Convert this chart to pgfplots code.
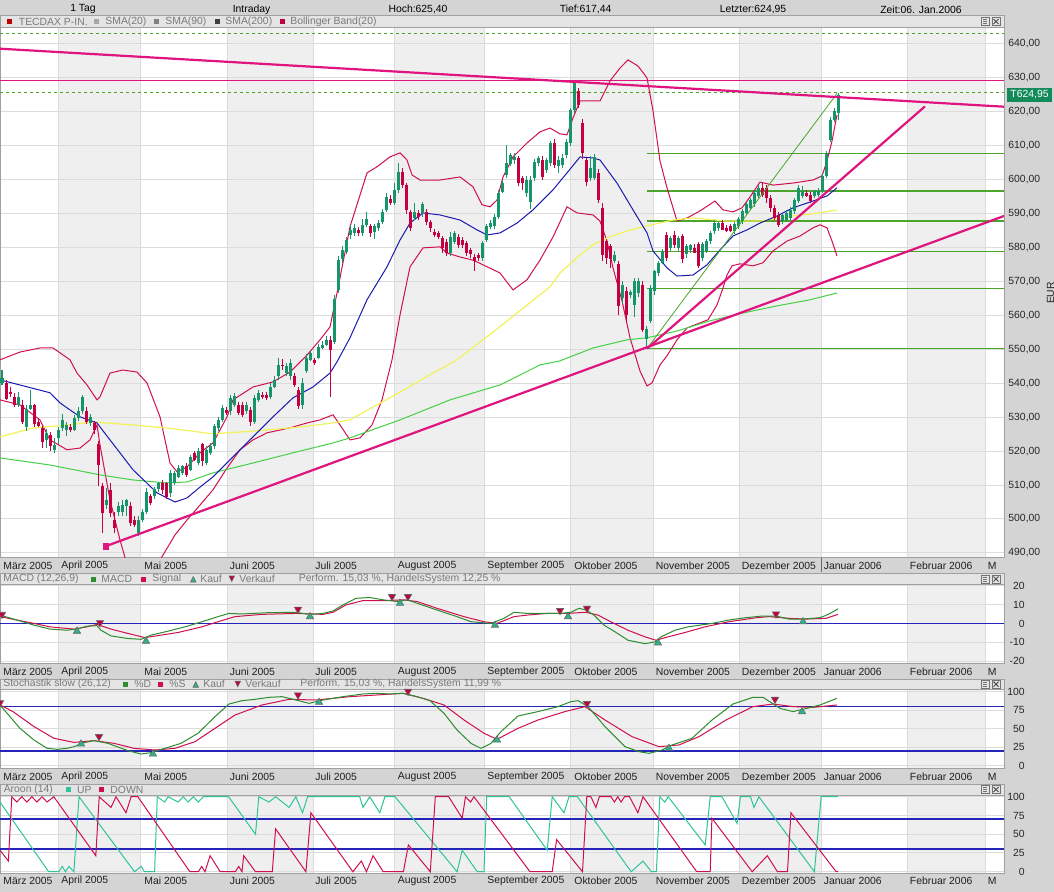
\documentclass[border=0pt]{standalone}
\usepackage{fontspec}
\setmainfont{Liberation Sans}
\usepackage{pgfplots}
\pgfplotsset{compat=1.18}
\usepackage{pgfplotstable}
\definecolor{bg}{HTML}{D4D4D4}
\definecolor{barc}{HTML}{E4E4E4}
\definecolor{frame}{HTML}{A0A0A0}
\definecolor{shadec}{HTML}{EFEFEF}
\definecolor{gridc}{HTML}{DCDCDC}
\definecolor{upc}{HTML}{17956A}
\definecolor{dnc}{HTML}{C40040}
\definecolor{boll}{HTML}{D0104E}
\definecolor{smab}{HTML}{1A1AB0}
\definecolor{smay}{HTML}{F2F25A}
\definecolor{smag}{HTML}{44D044}
\definecolor{trend}{HTML}{E0147F}
\definecolor{fib}{HTML}{4AA52A}
\definecolor{navy}{HTML}{2424B8}
\definecolor{macdg}{HTML}{2E8B2E}
\definecolor{sigr}{HTML}{D0104E}
\definecolor{kauf}{HTML}{2DB38C}
\definecolor{aup}{HTML}{2EC49A}
\definecolor{adn}{HTML}{D0104E}
\definecolor{legt}{HTML}{7A7A7A}
\definecolor{tbox}{HTML}{138A5A}
\newcommand\lab{\fontsize{5.2pt}{6pt}\selectfont}

\pgfplotstableread{
x o h l c
2 540 544 539.5 541.5
18 533.5 537.5 533 536
26 527 533.5 526 532.5
30 532.5 538 532 533.5
46 523.3 526.5 521 525.3
54 520.4 524 519.5 521.9
58 523.8 527 522 526.3
62 526.8 531 526 529.2
66 526.3 528.5 524.5 527.8
74 526.3 530.5 526 529.7
78 529.7 533 529 531.7
82 531.7 536.5 531 535.9
90 528.2 531 527.5 530
106 504 509 503 505.5
118 502.2 505 501 503.7
122 502 505.5 501 504
126 503.7 506 501 505.6
138 495.8 501 495 499.8
142 499.8 503 499 502.2
146 502.2 509 501.5 508.1
154 506.7 509.5 506 508.8
158 508.8 511 508 510.5
170 507.6 514.5 506.5 513.5
174 510.6 514 510 513.5
178 512.5 516 512 515
182 513.5 516 513 515.5
190 514.5 519 514 518.4
198 516.5 521 516 519.9
206 516.5 521.5 516 520.4
210 519.4 522.5 519 521.6
214 521.4 528 520.5 527.5
218 526.8 530 526 529.2
222 529.2 533.5 528.5 532.7
230 531.7 536.5 530.5 535.6
234 533.7 537 533 536.1
246 531.7 534.5 531 533.7
254 528.7 536.5 528 535.6
258 535.1 538 534.5 537.1
270 536.1 540 535.5 539
274 539 542 538.5 541
278 542 547.5 541 545.5
286 543 546 542 545
290 542 547 541 546
302 533.7 541.5 532.5 540
306 543.5 548.5 543 547.5
310 547 549.5 546.5 548.9
318 547.5 551.5 547 550.8
322 550.5 552.5 550 551.3
326 551.3 554 551 552.8
334 552.3 566 551.5 564.7
338 567.5 577.5 566.5 576.3
342 576.5 580.5 575.5 579.3
346 578.8 583 578 582.3
350 583.7 586.5 582.5 585.2
354 584.2 587 583.5 585.7
362 584.2 588.5 583.5 586.7
366 586.7 590.5 586 588.3
374 584.7 587 582.5 586.2
378 585.7 588 585 587.2
382 587.6 591.5 587 590.6
386 591.1 596 590.5 595
394 593.1 599 592.5 597
398 597 605 596 602.4
414 588.6 593 588 590.6
422 590.1 593.5 589 592.9
450 578.3 584.5 577.5 583.2
454 581.7 585 581 584.2
482 576.8 582 576 581.3
486 582.2 587 581.5 586.2
490 586.1 588 585.5 587.2
494 586.2 590 585.5 589.1
498 589.1 597 588.5 596
502 596.5 600 596 599.1
506 601.4 610.2 600.5 604.8
510 604.6 608 604 607.3
514 605.8 608 604.5 606.8
526 596 601 595 600
530 593.5 601 591.5 599.9
534 600.4 606 599.5 605.3
538 604.8 607 604 606.3
546 602.9 606.5 602 605.8
550 604.8 611.5 604 610.7
558 603.9 607 602 605.8
562 604.3 607.5 603.5 606.3
566 607.3 612 606.5 611.2
570 610.7 621 610 620.5
574 620.5 629.2 619.5 628.4
590 600.4 607 599.5 603.5
594 600.5 607.5 600 606.8
614 576 579 575.5 577.9
622 565.2 570 563.5 569.1
630 566 567.5 565 567
634 563.2 571 559.6 570
638 566.5 571 565.5 570
646 553 557 550.2 556
650 558.3 569 557.7 568.1
654 567.1 573.5 566 573
658 572.5 576 571.5 575.5
662 575.5 579.5 575 578.9
670 579.9 583.5 579 582.8
678 579.9 583.5 579 582.8
686 578 581 577 580.4
690 579.3 581 578.5 580.8
702 577 581.5 576 580.9
706 579 582.5 578.5 581.9
710 581.9 585 581 584.3
714 584.8 588 584 587.3
718 585.8 587.5 585 587.3
734 584.8 587.5 584 586.8
738 586.3 589 585.5 588.3
742 587.8 591.5 587 590.7
746 590.2 593.5 589.5 592.7
750 591.7 594.5 591 594.1
754 592.7 597 592 596.1
758 595.1 598.5 594.5 597.6
782 587.7 590 587 589.7
786 588.2 591 587.5 590.2
790 588.7 592 588 591.2
794 590.7 594.5 590 594.1
798 593.6 598.5 593 597.6
802 595.1 598 594.5 596.6
814 595.1 597 594.5 596.6
818 595.6 597.5 595 596.6
822 596.6 602 596 601
826 601 608.5 600.5 607.9
830 611.8 618.5 611 617.7
834 617.7 621 617 620.2
838 619.7 625.4 617.44 624.95
}\upt

\pgfplotstableread{
x o h l c
6 540 541 535 535.5
10 537.5 539 536 537
14 536 537 533 533.5
22 533.5 535 528 528.7
34 533.5 534 527 528
38 528.5 529.5 527 527.5
42 526.8 527.5 521 522.8
50 524.8 525.5 520 521.4
70 527 528 525.5 526.3
86 531.7 533 528 528.7
94 528.2 529 525 526.3
98 522 523 509.6 516
102 509.6 510.5 495.8 501.7
110 508.6 510.5 500.5 501.7
114 499.8 502 496 497.3
130 503.7 505 498 498.8
134 499.8 501 497.5 498.3
150 506.8 507.5 504 504.8
162 510.6 511.5 507.5 508.6
166 510.6 511 506 506.6
186 515.7 516.5 512.5 513
194 519.4 520 517 517.4
202 522 522.5 515.5 517
226 532.2 533 530.5 531.2
238 533.7 534.5 530.5 531.2
242 533.7 534.5 530 530.7
250 532.2 533 527.5 528.7
262 536.6 537.5 535.5 536.1
266 536.6 537.5 535 535.6
282 545.5 547 544 545
294 542 543 539 539.5
298 538 539 532.5 533.2
314 546.9 547.5 545.5 546
330 552.8 554 536 549.9
358 585.2 586 583.5 584.2
370 586.4 587 583 584.4
390 594.2 595.5 592.5 593.2
402 602.4 603.5 597.5 598.4
406 598.4 599 590 591.1
410 590.6 591 585 585.7
418 590.1 591 588 589.1
426 590.6 591.5 586.5 587.4
430 587.6 588 584.5 585.7
434 584.7 585.5 583 583.7
438 584.2 585 582.5 583.2
442 582.7 583.5 578.5 579.8
446 581.7 582.5 577.5 578.3
458 583.2 584 580 580.8
462 582.2 583 580 580.8
466 581.3 582 577.5 578.3
470 579.3 580 577 578.1
474 577.3 578 573.2 575.9
478 577.8 578.5 576 576.8
518 606.3 607 598 599
522 600.4 601 597 599
542 605.8 607 600 600.9
554 610.7 612 603.5 604.3
578 626 627 621 622
582 616.6 618 606 607.8
586 605.8 606.5 598 599.4
598 602 603 593 594.1
602 591.7 593 576 577.9
606 581.8 582.5 575 577
610 580.5 581 574 576.5
618 575 576 560 562.7
626 567.1 568.5 558 560.2
642 569.1 570 555 555.8
666 583.8 584.5 576 576.9
674 583.8 585 580 580.9
682 583.3 584 575.5 576.5
694 580 580.9 578.5 578.5
698 580.9 581.5 574 574.5
722 587.3 588 585.5 585.3
726 585.8 586.5 584.5 584.8
730 586.3 587 584.5 584.8
762 597.6 599 595 595.6
766 597.6 598.5 593 594.6
770 594.6 595.5 590.5 591.7
774 591.7 592.5 588 588.7
778 589.7 590.5 586 586.7
806 596.1 597 595 595.3
810 595.6 596.5 593 593.6
}\dnt

\pgfplotsset{
 panel/.style={
  anchor=north west, scale only axis, width=502pt,
  xmin=0, xmax=1004,
  axis line style={draw=frame, line width=0.5pt},
  xtick={58,140,227,313,394,484,570,653,739,821,907,985},
  xticklabels={},
  xmajorgrids, ymajorgrids,
  major grid style={draw=gridc, line width=0.5pt},
  major tick length=0pt,
  tick style={draw=none},
  yticklabel pos=right,
  ticklabel style={font=\lab, text=black!85},
  clip=true,
 },
 subpanel/.style={panel,
  yticklabel style={anchor=east, inner sep=0pt, xshift=10.5pt}},
 candle wick/.style={draw=none, mark=none, error bars/.cd, y dir=plus, y explicit,
  error mark=none, error bar style={draw=#1, line width=0.5pt}},
 candle body/.style={draw=none, mark=none, error bars/.cd, y dir=both, y explicit,
  error mark=none, error bar style={draw=#1, line width=1.5pt}},
}

\begin{document}
\begin{tikzpicture}
\begin{scope}[x=0.5pt,y=-0.5pt]
 \fill[bg] (0,0) rectangle (1054,892);
 % top row
 \node[font=\lab] at (83,9.5) {1 Tag};
 \node[font=\lab] at (251.6,9.5) {Intraday};
 \node[font=\lab] at (418,9.5) {Hoch:625,40};
 \node[font=\lab] at (585.6,9.5) {Tief:617,44};
 \node[font=\lab] at (753,9.5) {Letzter:624,95};
 \node[font=\lab] at (921,9.5) {Zeit:06. Jan.2006};
 % legend bars
 \filldraw[fill=barc, draw=frame] (0,15) rectangle (1004,28);
 \filldraw[fill=barc, draw=frame] (0,573.5) rectangle (1004,584.5);
 \filldraw[fill=barc, draw=frame] (0,679) rectangle (1004,689.3);
 \filldraw[fill=barc, draw=frame] (0,784) rectangle (1004,795);
 \foreach \yc in {21.5,579,684.2,789.5}{
   \draw[black!55, line width=0.4pt, fill=white!90!black] (981,\yc-4) rectangle (989,\yc+4);
   \draw[black!55, line width=0.4pt] (983,\yc-2) -- (987,\yc-2) (983,\yc) -- (987,\yc) (983,\yc+2) -- (987,\yc+2);
   \draw[black!55, line width=0.4pt, fill=white!90!black] (992,\yc-4) rectangle (1000,\yc+4);
   \draw[black!70, line width=0.5pt] (993.5,\yc-2.5) -- (998.5,\yc+2.5) (993.5,\yc+2.5) -- (998.5,\yc-2.5);
 }
 % panel backgrounds
 \foreach \ya/\yb in {28/558, 584.5/663.3, 689.3/768.3, 795/873.3}{
   \fill[white] (0,\ya) rectangle (1004,\yb);
   \foreach \a/\b in {58/140,227/313,394/484,570/653,739/821,907/985}
     \fill[shadec] (\a,\ya) rectangle (\b,\yb);
 }
 % month labels
 \foreach \yy in {565.5,671.5,776.5,881}{
  \foreach \x/\t in {3/März 2005,61/April 2005,144/Mai 2005,229.5/Juni 2005,315/Juli 2005,397.5/August 2005,487/September 2005,574/Oktober 2005,655.5/November 2005,741.5/Dezember 2005,823.5/Januar 2006,909.5/Februar 2006,987.5/M}
   \node[anchor=west, inner sep=0pt, font=\lab, text=black!88] at (\x,\yy) {\t};
 }
 \draw[black!60, line width=0.5pt] (821,558) -- (821,572);
 % main legend
 \fill[red!75!black] (7,19) rectangle (12,24);
 \node[anchor=west, inner sep=0pt, font=\lab, text=legt] at (18.5,21.8) {TECDAX P-IN.};
 \fill[black!35] (94,19) rectangle (99,24);
 \node[anchor=west, inner sep=0pt, font=\lab, text=legt] at (105,21.8) {SMA(20)};
 \fill[black!50] (154,19) rectangle (159,24);
 \node[anchor=west, inner sep=0pt, font=\lab, text=legt] at (165,21.8) {SMA(90)};
 \fill[black!75] (215,19) rectangle (220,24);
 \node[anchor=west, inner sep=0pt, font=\lab, text=legt] at (225,21.8) {SMA(200)};
 \fill[dnc] (280,19) rectangle (285,24);
 \node[anchor=west, inner sep=0pt, font=\lab, text=legt] at (290,21.8) {Bollinger Band(20)};
 % MACD legend
 \node[anchor=west, inner sep=0pt, font=\lab, text=legt] at (3,579) {MACD (12,26,9)};
 \fill[macdg] (91,576.5) rectangle (96,581.5);
 \node[anchor=west, inner sep=0pt, font=\lab, text=legt] at (101,579) {MACD};
 \fill[sigr] (141,576.5) rectangle (146,581.5);
 \node[anchor=west, inner sep=0pt, font=\lab, text=legt] at (152,579) {Signal};
 \filldraw[fill=kauf, draw=black!60, line width=0.3pt] (190.5,582) -- (196,582) -- (193.25,576.5) -- cycle;
 \node[anchor=west, inner sep=0pt, font=\lab, text=legt] at (200,579) {Kauf};
 \filldraw[fill=dnc, draw=black!60, line width=0.3pt] (229,576) -- (234.5,576) -- (231.75,581.5) -- cycle;
 \node[anchor=west, inner sep=0pt, font=\lab, text=legt] at (239,579) {Verkauf};
 \node[anchor=west, inner sep=0pt, font=\lab, text=legt] at (298.5,579) {Perform. 15,03 \%, HandelsSystem 12,25 \%};
 % Stoch legend
 \node[anchor=west, inner sep=0pt, font=\lab, text=legt] at (3,684.2) {Stochastik slow (26,12)};
 \fill[macdg] (123,681.7) rectangle (128,686.7);
 \node[anchor=west, inner sep=0pt, font=\lab, text=legt] at (134,684.2) {\%D};
 \fill[sigr] (158,681.7) rectangle (163,686.7);
 \node[anchor=west, inner sep=0pt, font=\lab, text=legt] at (169,684.2) {\%S};
 \filldraw[fill=kauf, draw=black!60, line width=0.3pt] (193,687.2) -- (198.5,687.2) -- (195.75,681.7) -- cycle;
 \node[anchor=west, inner sep=0pt, font=\lab, text=legt] at (203,684.2) {Kauf};
 \filldraw[fill=dnc, draw=black!60, line width=0.3pt] (235,681.2) -- (240.5,681.2) -- (237.75,686.7) -- cycle;
 \node[anchor=west, inner sep=0pt, font=\lab, text=legt] at (245,684.2) {Verkauf};
 \node[anchor=west, inner sep=0pt, font=\lab, text=legt] at (300,684.2) {Perform. 15,03 \%, HandelsSystem 11,99 \%};
 % Aroon legend
 \node[anchor=west, inner sep=0pt, font=\lab, text=legt] at (3.4,789.5) {Aroon (14)};
 \fill[aup] (65.5,787) rectangle (70.5,792);
 \node[anchor=west, inner sep=0pt, font=\lab, text=legt] at (76.6,789.5) {UP};
 \fill[adn] (99,787) rectangle (104,792);
 \node[anchor=west, inner sep=0pt, font=\lab, text=legt] at (110,789.5) {DOWN};
\end{scope}

% ================= MAIN PRICE PANEL =================
\begin{axis}[panel, at={(0pt,-14pt)}, height=265pt, ymin=488.5, ymax=644.7,
  ytick={490,500,...,640},
  yticklabels={{490,00},{500,00},{510,00},{520,00},{530,00},{540,00},{550,00},{560,00},{570,00},{580,00},{590,00},{600,00},{610,00},{620,00},{630,00},{640,00}},
  yticklabel style={anchor=west, inner sep=0pt, xshift=2pt}]
 % Fibonacci levels
 \addplot[fib, line width=0.65pt] coordinates {(647,607.7)(1004,607.7)};
 \addplot[fib, line width=0.65pt] coordinates {(647,596.7)(1004,596.7)};
 \addplot[fib, line width=0.65pt] coordinates {(647,587.8)(1004,587.8)};
 \addplot[fib, line width=0.65pt] coordinates {(647,578.9)(1004,578.9)};
 \addplot[fib, line width=0.65pt] coordinates {(647,567.9)(1004,567.9)};
 \addplot[fib, line width=0.65pt] coordinates {(647,550.2)(1004,550.2)};
 \addplot[fib, line width=0.5pt, dash pattern=on 1.5pt off 1.5pt] coordinates {(0,643.2)(1004,643.2)};
 \addplot[fib, line width=0.5pt, dash pattern=on 1.5pt off 1.5pt] coordinates {(0,625.6)(1004,625.6)};
 \addplot[trend, line width=0.5pt] coordinates {(0,629.3)(1004,629.3)};
 % Bollinger bands
 \addplot[boll, line width=0.5pt] coordinates {(0,546.9)(20,549.2)(40,550.4)(53,550.4)(70,546.9)(77,543.0)(87,539.5)(97,535.1)(100,536.0)(110,543.0)(123,543.9)(137,543.3)(147,540.1)(160,530.1)(170,516.5)(177,513.9)(187,515.3)(200,519.5)(213,522.4)(227,530.1)(233,535.1)(253,538.9)(273,540.4)(290,543.3)(307,548.3)(320,552.8)(330,556.6)(337,566.6)(350,586.1)(367,602.0)(377,603.8)(390,606.7)(400,607.9)(407,605.8)(412,601.4)(420,599.9)(440,599.9)(460,600.8)(473,597.9)(482,592.6)(490,592.0)(497,594.0)(503,600.8)(513,606.7)(527,610.8)(540,614.1)(550,615.2)(560,613.5)(567,613.2)(573,618.2)(580,623.2)(600,623.2)(610,629.1)(620,632.9)(628,635.3)(638,633.5)(647,630.0)(653,620.3)(660,605.5)(667,597.6)(677,587.8)(687,588.7)(700,590.8)(715,593.7)(723,591.1)(733,590.5)(742,591.7)(750,594.9)(760,599.3)(773,598.4)(793,599.0)(813,599.9)(822,601.1)(827,605.5)(832,611.4)(837,619.1)};
 \addplot[boll, line width=0.5pt] coordinates {(0,535.1)(20,533.6)(40,529.2)(50,523.3)(67,520.4)(80,520.9)(90,523.3)(97,527.7)(100,521.8)(110,505.6)(120,493.8)(130,483.5)(145,476.1)(160,487.9)(175,495.3)(187,499.7)(200,504.1)(213,508.6)(227,515.0)(240,520.4)(253,523.3)(267,525.4)(280,526.2)(293,527.1)(307,528.3)(320,529.2)(333,530.7)(340,527.7)(350,523.3)(360,523.9)(372,527.7)(382,535.1)(392,546.9)(400,560.1)(410,574.3)(423,579.9)(440,580.2)(447,578.4)(460,577.2)(473,576.3)(483,574.9)(500,572.5)(513,567.5)(527,570.5)(540,576.3)(553,583.1)(567,592.0)(577,590.2)(593,589.6)(600,587.8)(607,581.9)(613,574.0)(622,564.3)(630,553.4)(640,543.6)(647,539.2)(652,540.1)(660,545.4)(667,548.1)(677,552.8)(687,556.3)(700,557.8)(708,558.7)(717,563.1)(723,568.1)(727,571.9)(732,574.6)(740,575.2)(753,574.6)(763,575.5)(773,579.0)(787,581.9)(800,583.4)(813,585.8)(820,586.7)(827,585.8)(832,581.9)(837,577.5)};
 % SMA 200, 90, 20
 \addplot[smag, line width=0.5pt] coordinates {(0,518.0)(50,515.9)(100,513.0)(133,511.5)(167,510.6)(187,510.9)(213,513.6)(253,516.5)(293,519.5)(333,522.4)(350,523.9)(400,529.2)(450,535.1)(500,539.5)(540,545.4)(560,546.6)(593,550.4)(627,552.8)(647,553.4)(677,555.4)(710,558.4)(743,560.7)(777,562.8)(810,564.6)(837,566.6)};
 \addplot[smay, line width=0.6pt] coordinates {(0,524.2)(33,526.8)(67,527.7)(93,528.6)(133,527.7)(167,526.8)(213,525.1)(253,525.9)(300,527.1)(333,528.3)(350,529.2)(400,537.4)(430,542.5)(457,546.9)(487,553.7)(517,560.7)(550,568.4)(560,572.5)(580,577.8)(593,580.8)(607,582.8)(627,584.9)(647,586.4)(673,588.1)(693,588.7)(727,587.8)(760,587.8)(793,589.3)(820,590.2)(837,591.1)};
 \addplot[smab, line width=0.5pt] coordinates {(0,541.0)(50,537.2)(60,534.2)(80,530.1)(97,528.3)(110,523.3)(133,514.5)(157,507.7)(175,505.0)(187,506.2)(200,509.4)(213,512.4)(233,518.3)(253,524.2)(273,530.1)(293,535.7)(313,538.9)(330,543.0)(337,546.3)(350,553.4)(367,564.6)(387,574.3)(400,582.2)(410,587.2)(423,590.2)(440,589.6)(460,588.1)(477,585.2)(487,583.7)(500,584.3)(517,587.2)(533,591.1)(553,597.0)(567,602.0)(580,606.7)(593,606.4)(600,605.8)(617,599.0)(633,591.1)(647,584.3)(653,579.0)(667,574.0)(677,571.6)(693,571.9)(707,574.9)(720,579.3)(733,583.4)(747,585.2)(760,587.2)(777,589.3)(793,591.7)(813,593.7)(827,595.2)(837,597.6)};
 % candles
 \addplot[candle wick=upc] table[x=x, y=l, y error expr={\thisrow{h}-\thisrow{l}}] {\upt};
 \addplot[candle body=upc] table[x=x, y expr={(\thisrow{o}+\thisrow{c})/2}, y error expr={max(abs(\thisrow{c}-\thisrow{o})/2,0.25)}] {\upt};
 \addplot[candle wick=dnc] table[x=x, y=l, y error expr={\thisrow{h}-\thisrow{l}}] {\dnt};
 \addplot[candle body=dnc] table[x=x, y expr={(\thisrow{o}+\thisrow{c})/2}, y error expr={max(abs(\thisrow{c}-\thisrow{o})/2,0.25)}] {\dnt};
 % thin diagonal
 \addplot[fib, line width=0.4pt] coordinates {(647,550.2)(837,625.4)};
 % trend lines
 \addplot[trend, line width=1.1pt] coordinates {(0,638.6)(1004,621.5)};
 \addplot[trend, line width=1.1pt] coordinates {(106,492.0)(1004,589.3)};
 \addplot[trend, line width=1.1pt] coordinates {(647,550.2)(925,621.6)};
 \addplot[trend, only marks, mark=square*, mark size=1.4pt] coordinates {(106,492.0)};
\end{axis}

% ================= MACD =================
\begin{axis}[subpanel, at={(0pt,-292.25pt)}, height=39.4pt, ymin=-21.1, ymax=20.6,
  ytick={-20,-10,0,10,20}, yticklabels={-20,-10,0,10,20}]
 \addplot[navy, line width=0.75pt] coordinates {(0,0)(1004,0)};
 \addplot[sigr, line width=0.5pt] coordinates {(0,3.6)(17,1.8)(34,0)(50,-1.8)(74,-3.0)(87,-1.8)(97,-0.5)(111,-3.0)(128,-5.3)(145,-7.5)(161,-6.2)(178,-4.8)(202,-1.8)(218,0.9)(235,3.6)(262,4.8)(296,5.3)(323,4.8)(333,5.9)(346,9.8)(363,12.1)(387,12.1)(403,12.5)(417,11.6)(437,8.0)(464,3.6)(484,0.9)(497,0)(514,3.6)(527,4.4)(547,5.3)(567,5.3)(586,5.9)(598,4.4)(614,0)(628,-3.6)(645,-7.1)(656,-8.9)(668,-7.1)(685,-4.8)(705,-1.8)(729,0.9)(756,3.0)(769,3.6)(789,2.7)(806,2.3)(826,2.7)(838,4.8)};
 \addplot[macdg, line width=0.5pt] coordinates {(0,4.4)(17,1.8)(34,-0.9)(50,-3.0)(67,-3.6)(77,-3.0)(87,-1.4)(97,-1.2)(101,-3.6)(111,-6.6)(128,-8.0)(141,-8.4)(151,-6.2)(168,-4.1)(185,-1.8)(202,0.9)(218,3.6)(229,5.3)(242,5.0)(269,5.7)(296,5.9)(309,4.8)(323,5.3)(333,6.6)(343,9.8)(356,13.3)(370,13.7)(383,12.5)(397,11.6)(407,12.5)(417,10.7)(437,7.1)(457,3.6)(471,0.9)(491,0)(504,2.7)(514,5.9)(527,5.3)(561,5.3)(571,5.9)(579,8.0)(586,7.1)(594,4.4)(604,-0.9)(614,-4.1)(628,-8.9)(645,-10.7)(655,-9.8)(661,-7.1)(675,-3.6)(688,-1.8)(712,0)(729,1.8)(745,3.0)(762,3.9)(776,3.9)(789,2.3)(803,2.3)(819,3.0)(823,3.6)(830,5.3)(838,7.7)};
 \addplot[only marks, mark=triangle*, mark size=2.1pt, mark options={rotate=180, fill=dnc, draw=black!60, line width=0.3pt}] coordinates {(2,4.8)(100,0.4)(298,7.5)(392,14.2)(408,14.2)(560,6.8)(587,8.0)(776,5.0)};
 \addplot[only marks, mark=triangle*, mark size=2.1pt, mark options={fill=kauf, draw=black!60, line width=0.3pt}] coordinates {(77,-4.1)(146,-9.4)(310,3.6)(400,10.7)(495,-0.9)(568,3.6)(658,-10.3)(803,0.9)};
\end{axis}

% ================= STOCHASTIK =================
\begin{axis}[subpanel, at={(0pt,-344.65pt)}, height=39.5pt, ymin=-3.1, ymax=103.2,
  ytick={0,25,50,75,100}, yticklabels={0,25,50,75,100}]
 \addplot[navy, line width=0.75pt] coordinates {(0,80)(1004,80)};
 \addplot[navy, line width=0.75pt] coordinates {(0,20)(1004,20)};
 \addplot[sigr, line width=0.5pt] coordinates {(0,82.1)(13,73.2)(34,53.0)(54,37.2)(74,31.8)(94,34.1)(114,30.5)(134,23.8)(155,21.5)(175,23.8)(195,32.7)(215,50.7)(235,68.6)(262,82.1)(289,89.7)(316,88.8)(350,93.3)(376,95.5)(403,97.8)(423,91.1)(444,82.1)(464,61.9)(484,44.0)(497,35.9)(518,50.7)(538,61.9)(565,73.2)(585,79.9)(605,61.9)(632,39.5)(659,26.0)(679,28.3)(699,39.5)(726,61.9)(753,79.9)(773,83.4)(793,79.9)(813,78.9)(837,82.1)};
 \addplot[macdg, line width=0.5pt] coordinates {(0,82.1)(10,66.4)(20,50.7)(34,35.0)(47,23.8)(57,22.4)(67,23.8)(74,26.0)(84,31.4)(94,34.1)(108,30.5)(128,20.6)(141,16.1)(151,17.9)(165,23.8)(181,30.5)(198,44.0)(215,66.4)(229,83.4)(242,87.9)(255,89.7)(269,92.4)(282,93.3)(296,88.8)(309,84.3)(323,88.8)(343,93.3)(363,96.9)(376,97.8)(390,96.9)(403,97.8)(417,93.3)(430,87.9)(444,70.9)(457,48.5)(471,30.5)(481,23.8)(491,30.5)(501,46.2)(518,67.3)(538,73.2)(558,79.9)(571,86.6)(578,87.9)(588,79.9)(605,53.0)(625,26.0)(639,19.3)(649,17.0)(662,21.5)(672,28.3)(692,37.2)(712,61.9)(733,83.4)(753,92.4)(763,92.4)(780,77.6)(793,73.2)(807,77.6)(820,82.1)(837,91.1)};
 \addplot[only marks, mark=triangle*, mark size=2.1pt, mark options={rotate=180, fill=dnc, draw=black!60, line width=0.3pt}] coordinates {(0,85)(99,39.5)(298,95.6)(408,100.5)(587,84)(775,89.7)};
 \addplot[only marks, mark=triangle*, mark size=2.1pt, mark options={fill=kauf, draw=black!60, line width=0.3pt}] coordinates {(81,29.6)(153,16.2)(319,85.7)(497,35)(669,23.8)(802,73)};
\end{axis}

% ================= AROON =================
\begin{axis}[subpanel, at={(0pt,-397.5pt)}, height=39.15pt, ymin=-2.1, ymax=102.3,
  ytick={0,25,50,75,100}, yticklabels={0,25,50,75,100}]
 \addplot[navy, line width=0.75pt] coordinates {(0,70)(1004,70)};
 \addplot[navy, line width=0.75pt] coordinates {(0,30)(1004,30)};
 \addplot[aup, line width=0.5pt] coordinates {(0,92.9)(48.7,0)(58.8,0)(62.2,7.1)(65.5,0)(68.9,7.1)(73.9,0)(79,100)(134.5,0)(141.2,7.1)(144.5,0)(154.6,0)(157.3,100)(164.7,92.9)(168.1,100)(178.2,92.9)(183.2,100)(188.2,92.9)(193.3,100)(198.3,92.9)(203.4,100)(228.6,100)(255.5,50)(258.8,100)(268.9,92.9)(275.6,100)(289.1,85.7)(295.8,100)(302.5,78.6)(307.6,100)(359.7,100)(363,85.7)(369.7,100)(379.8,78.6)(384.9,100)(395,100)(457.1,0)(462.2,28.6)(477.3,0)(484,0)(486.7,100)(509.2,100)(547.2,28.6)(552.2,100)(564,78.6)(569,100)(577.4,100)(631.2,0)(643,14.3)(651.4,0)(656.4,0)(659.8,100)(664.8,92.9)(668.2,100)(705.2,35.7)(710.2,100)(722,100)(737.1,64.3)(740.4,100)(750.5,100)(753.9,85.7)(758.9,100)(814.4,0)(821.1,100)(837.9,100)};
 \addplot[adn, line width=0.5pt] coordinates {(0,28.6)(8.4,14.3)(11.8,100)(16.8,92.9)(21.8,100)(26.9,92.9)(31.9,100)(36.9,92.9)(42,100)(47,92.9)(53.8,100)(95.8,21.4)(99.2,100)(111,85.7)(116,100)(126,78.6)(131.1,100)(137.8,100)(189.9,0)(198.3,0)(201.7,7.1)(205,0)(210.1,21.4)(220.2,0)(235.3,0)(238.7,7.1)(242,0)(243.7,21.4)(255.5,0)(272.3,0)(275.6,57.1)(305.9,0)(310.9,78.6)(352.9,0)(361.3,14.3)(366.4,0)(373.1,21.4)(383.2,0)(403.4,0)(408.4,35.7)(430.3,0)(435.3,100)(448.7,100)(462.2,71.4)(465.5,100)(470.6,92.9)(473.9,100)(530,0)(552.2,0)(556.6,42.9)(582.5,0)(586.8,100)(590.9,100)(595.9,85.7)(599.3,100)(611,100)(614.4,92.9)(617.8,100)(621.1,92.9)(624.5,100)(629.5,100)(637.9,78.6)(643,100)(696.7,0)(710.2,0)(711.9,71.4)(752.2,0)(767.3,21.4)(777.4,0)(787.5,0)(790.9,78.6)(836.2,0)(838,0)};
\end{axis}

\begin{scope}[x=0.5pt,y=-0.5pt]
 \node[fill=tbox, text=white, font=\lab, inner sep=0pt, minimum width=22.5pt, minimum height=6.6pt] at (1029.5,95) {T624,95};
 \node[rotate=90, font=\lab, text=black!85] at (1050.5,293) {EUR};
\end{scope}
\pgfresetboundingbox
\useasboundingbox (0pt,0pt) rectangle (527pt,-446pt);
\end{tikzpicture}
\end{document}
